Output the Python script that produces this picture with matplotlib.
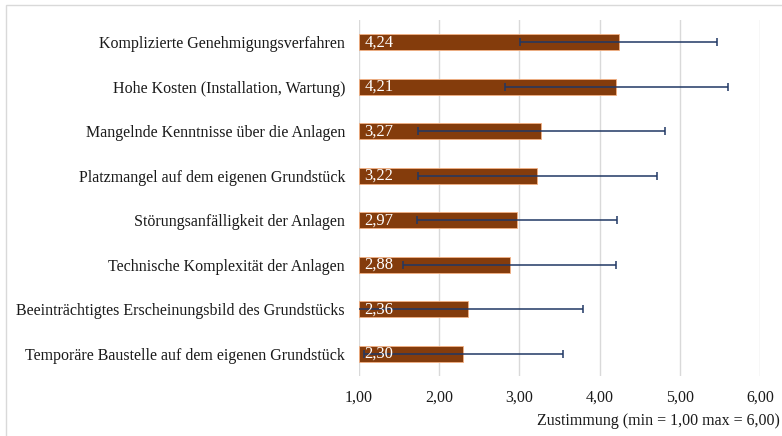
import numpy as np
import matplotlib.pyplot as plt
from matplotlib.patches import Rectangle
from matplotlib.ticker import FuncFormatter

plt.rcParams['font.family'] = ['Liberation Serif', 'DejaVu Serif']

kategorien = [
    'Komplizierte Genehmigungsverfahren',
    'Hohe Kosten (Installation, Wartung)',
    'Mangelnde Kenntnisse über die Anlagen',
    'Platzmangel auf dem eigenen Grundstück',
    'Störungsanfälligkeit der Anlagen',
    'Technische Komplexität der Anlagen',
    'Beeinträchtigtes Erscheinungsbild des Grundstücks',
    'Temporäre Baustelle auf dem eigenen Grundstück',
]
mittelwerte = [4.24, 4.21, 3.27, 3.22, 2.97, 2.88, 2.36, 2.30]
std_abw = [1.23, 1.39, 1.54, 1.49, 1.25, 1.33, 1.43, 1.24]

x_min = 1.0
x_max = 6.0

fig = plt.figure(figsize=(7.82, 4.36), dpi=100)
ax = fig.add_axes([359/782, 1-376/436, (760-359)/782, (376-20)/436])

pos = np.arange(len(kategorien))
breite = [m - x_min for m in mittelwerte]
ax.barh(pos, breite, left=x_min, height=0.36, color='#843C0C',
        edgecolor='#F4B183', linewidth=0.6, zorder=2)
ax.errorbar(mittelwerte, pos, xerr=std_abw, fmt='none', ecolor='#203864',
            elinewidth=1.1, capsize=3, capthick=1.1, zorder=3)

for p, m in zip(pos, mittelwerte):
    ax.text(x_min + 0.07, p, f'{m:.2f}'.replace('.', ','), color='white',
            va='center', ha='left', fontsize=12, zorder=4)

ax.set_xlim(x_min, x_max)
ax.set_ylim(len(kategorien) - 0.5, -0.5)
ax.set_xticks(np.arange(1, 7))
ax.xaxis.set_major_formatter(FuncFormatter(lambda v, _: f'{v:.2f}'.replace('.', ',')))
ax.set_yticks(pos)
ax.set_yticklabels(kategorien)
ax.tick_params(axis='both', length=0, labelsize=11.5, colors='#1a1a1a')
ax.tick_params(axis='y', pad=10)
ax.tick_params(axis='x', pad=10)
ax.grid(axis='x', color='#d9d9d9', linewidth=1, zorder=0)
for s in ax.spines.values():
    s.set_visible(False)

fig.text(780/782, 1-421/436, 'Zustimmung (min = 1,00 max = 6,00)', ha='right',
         va='center', fontsize=11.5, color='#1a1a1a')

fig.patches.append(Rectangle((6/782, -0.1), 1.2, 1.1 - 5/436, transform=fig.transFigure,
                             fill=False, edgecolor='#d9d9d9', linewidth=1))

fig.savefig('out.png', dpi=100)
